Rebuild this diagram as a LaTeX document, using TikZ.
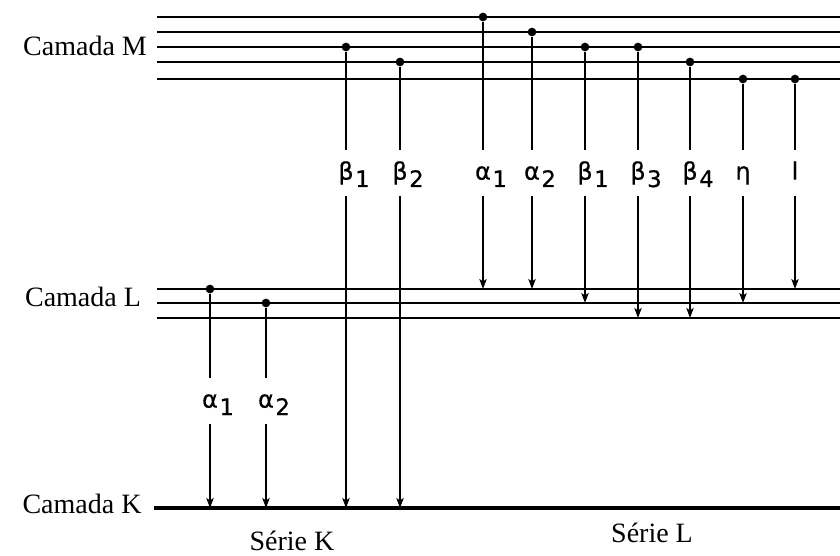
\documentclass[tikz,border=0pt]{standalone}
\usepackage{fontspec}
\setmainfont{Liberation Serif}
\newfontfamily\gfont[FakeBold=0.6]{DejaVu Sans}
\usetikzlibrary{arrows.meta}
\newcommand{\sbs}[1]{\rlap{\kern1.2pt\raisebox{-5.5pt}{\fontsize{17}{17}\selectfont #1}}}
\begin{document}
\begin{tikzpicture}[x=0.75pt,y=-0.75pt,
  shell/.style={line width=1.4pt},
  kshell/.style={line width=2.3pt},
  tline/.style={line width=1pt},
  trans/.style={line width=1pt,-{Stealth[length=7.5pt,width=5.5pt,inset=1.8pt]}},
  dot/.style={circle,fill,inner sep=0pt,minimum size=6.5pt},
  glabel/.style={inner xsep=1pt,inner ysep=8pt,text height=14pt,text depth=4pt,
    font=\gfont\fontsize{18}{18}\selectfont},
  txt/.style={font=\fontsize{21}{21}\selectfont,anchor=base}]
\useasboundingbox (0,0) rectangle (840,556);
% shell end points
\coordinate (m1w) at (157,17);  \coordinate (m1e) at (840,17);
\coordinate (m2w) at (157,32);  \coordinate (m2e) at (840,32);
\coordinate (m3w) at (157,47);  \coordinate (m3e) at (840,47);
\coordinate (m4w) at (157,62);  \coordinate (m4e) at (840,62);
\coordinate (m5w) at (157,79);  \coordinate (m5e) at (840,79);
\coordinate (l1w) at (157,289); \coordinate (l1e) at (840,289);
\coordinate (l2w) at (157,303); \coordinate (l2e) at (840,303);
\coordinate (l3w) at (157,318); \coordinate (l3e) at (840,318);
\coordinate (kw) at (154,508);  \coordinate (ke) at (840,508);
\draw[shell] (m1w) -- (m1e);
\draw[shell] (m2w) -- (m2e);
\draw[shell] (m3w) -- (m3e);
\draw[shell] (m4w) -- (m4e);
\draw[shell] (m5w) -- (m5e);
\draw[shell] (l1w) -- (l1e);
\draw[shell] (l2w) -- (l2e);
\draw[shell] (l3w) -- (l3e);
\draw[kshell] (kw) -- (ke);
% shell names
\node[txt] (cM) at (85,56) {Camada M};
\node[txt] (cL) at (83,306) {Camada L};
\node[txt] (cK) at (82,513) {Camada K};
\node[txt] (sK) at (292,550) {Série K};
\node[txt] (sL) at (652,542) {Série L};
% start dots
\node[dot] (dKa1) at (210,289) {};
\node[dot] (dKa2) at (266,303) {};
\node[dot] (dKb1) at (346,47) {};
\node[dot] (dKb2) at (400,62) {};
\node[dot] (dLa1) at (483,17) {};
\node[dot] (dLa2) at (532,32) {};
\node[dot] (dLb1) at (585,47) {};
\node[dot] (dLb3) at (638,47) {};
\node[dot] (dLb4) at (690,62) {};
\node[dot] (dLe) at (743,79) {};
\node[dot] (dLl) at (795,79) {};
% labels (break the lines)
\node[glabel] (tKa1) at (210,401) {α\sbs{1}};
\node[glabel] (tKa2) at (266,401) {α\sbs{2}};
\node[glabel] (tKb1) at (346,173) {β\sbs{1}};
\node[glabel] (tKb2) at (400,173) {β\sbs{2}};
\node[glabel] (tLa1) at (483,173) {α\sbs{1}};
\node[glabel] (tLa2) at (532,173) {α\sbs{2}};
\node[glabel] (tLb1) at (585,173) {β\sbs{1}};
\node[glabel] (tLb3) at (638,173) {β\sbs{3}};
\node[glabel] (tLb4) at (690,173) {β\sbs{4}};
\node[glabel] (tLe) at (743,173) {η};
\node[glabel] (tLl) at (795,173) {l};
% arrow ends
\coordinate (eKa1) at (210,508);
\coordinate (eKa2) at (266,508);
\coordinate (eKb1) at (346,508);
\coordinate (eKb2) at (400,508);
\coordinate (eLa1) at (483,289);
\coordinate (eLa2) at (532,289);
\coordinate (eLb1) at (585,303);
\coordinate (eLb3) at (638,318);
\coordinate (eLb4) at (690,318);
\coordinate (eLe) at (743,303);
\coordinate (eLl) at (795,289);
% transitions
\foreach \t in {Ka1,Ka2,Kb1,Kb2,La1,La2,Lb1,Lb3,Lb4,Le,Ll}{
  \draw[tline] (d\t) -- (t\t);
  \draw[trans] (t\t) -- (e\t);
}
\end{tikzpicture}
\end{document}
